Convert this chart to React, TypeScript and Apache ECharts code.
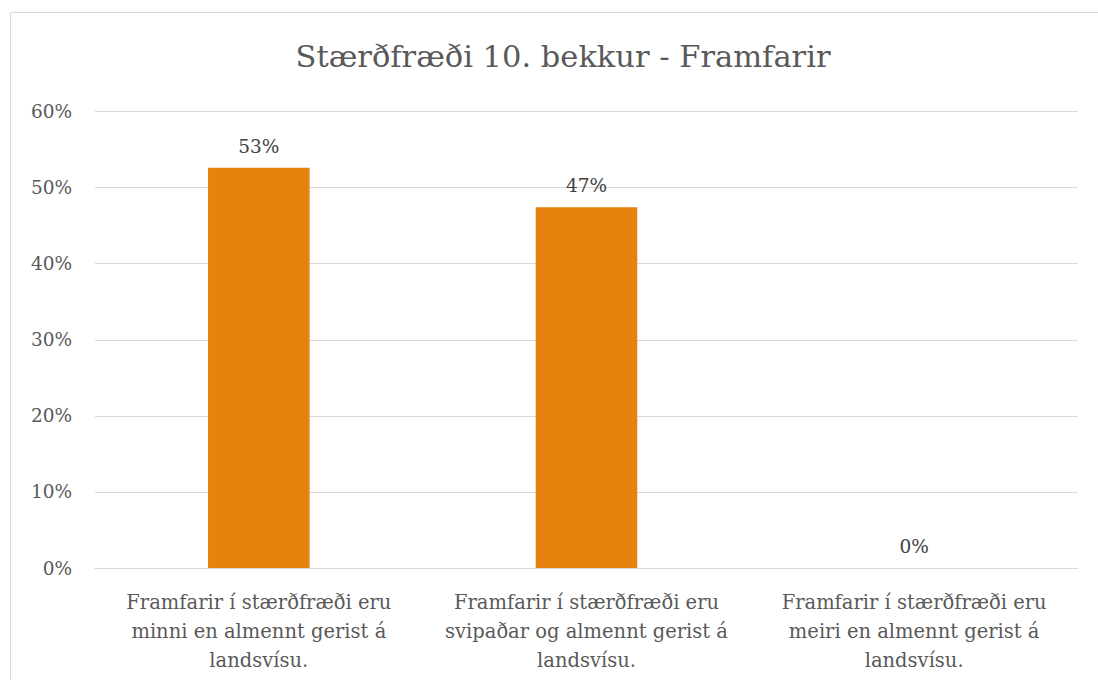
import React, { useEffect, useRef } from "react";
import * as echarts from "echarts";

const titleText = "Stærðfræði 10. bekkur - Framfarir";
const categories = [
  "Framfarir í stærðfræði eru\nminni en almennt gerist á\nlandsvísu.",
  "Framfarir í stærðfræði eru\nsvipaðar og almennt gerist á\nlandsvísu.",
  "Framfarir í stærðfræði eru\nmeiri en almennt gerist á\nlandsvísu.",
];
const values = [52.6, 47.4, 0];
const yTicks = { min: 0, max: 60, interval: 10 };

const FONT = "'DejaVu Serif', 'Liberation Serif', serif";
const TEXT = "#595959";

export default function App() {
  const ref = useRef<HTMLDivElement>(null);
  useEffect(() => {
    if (!ref.current) return;
    const chart = echarts.init(ref.current, undefined, { renderer: "svg" });
    chart.setOption({
      animation: false,
      backgroundColor: "#ffffff",
      title: {
        text: titleText,
        left: 558,
        top: 36,
        textAlign: "center",
        textStyle: { fontFamily: FONT, fontSize: 30.5, fontWeight: "normal", color: TEXT },
      },
      graphic: [
        {
          type: "rect",
          shape: { x: 10.5, y: 12.5, width: 1200, height: 800 },
          style: { fill: "none", stroke: "#d9d9d9", lineWidth: 1 },
          silent: true,
        },
      ],
      grid: { left: 95, right: 20, top: 111.5, bottom: 112, containLabel: false },
      xAxis: {
        type: "category",
        data: categories,
        axisLine: { show: true, lineStyle: { color: "#d9d9d9", width: 1 } },
        axisTick: { show: false },
        axisLabel: {
          interval: 0,
          margin: 20,
          fontFamily: FONT,
          fontSize: 19.5,
          lineHeight: 29,
          color: TEXT,
          align: "center",
        },
      },
      yAxis: {
        type: "value",
        min: yTicks.min,
        max: yTicks.max,
        interval: yTicks.interval,
        axisLine: { show: false },
        axisTick: { show: false },
        splitLine: { lineStyle: { color: "#d9d9d9", width: 1 } },
        axisLabel: {
          formatter: (v: number) => `${v}%`,
          fontFamily: FONT,
          fontSize: 18.5,
          color: TEXT,
          margin: 23,
        },
      },
      series: [
        {
          type: "bar",
          data: values,
          barWidth: "31%",
          itemStyle: { color: "#E6820E" },
          label: {
            show: true,
            position: "top",
            distance: 12,
            formatter: (p: any) => `${Math.round(p.value)}%`,
            fontFamily: FONT,
            fontSize: 18.5,
            color: "#404040",
          },
        },
      ],
    });
    return () => chart.dispose();
  }, []);
  return (
    <div
      ref={ref}
      style={{ position: "absolute", left: 0, top: 0, width: 1098, height: 680 }}
    />
  );
}
